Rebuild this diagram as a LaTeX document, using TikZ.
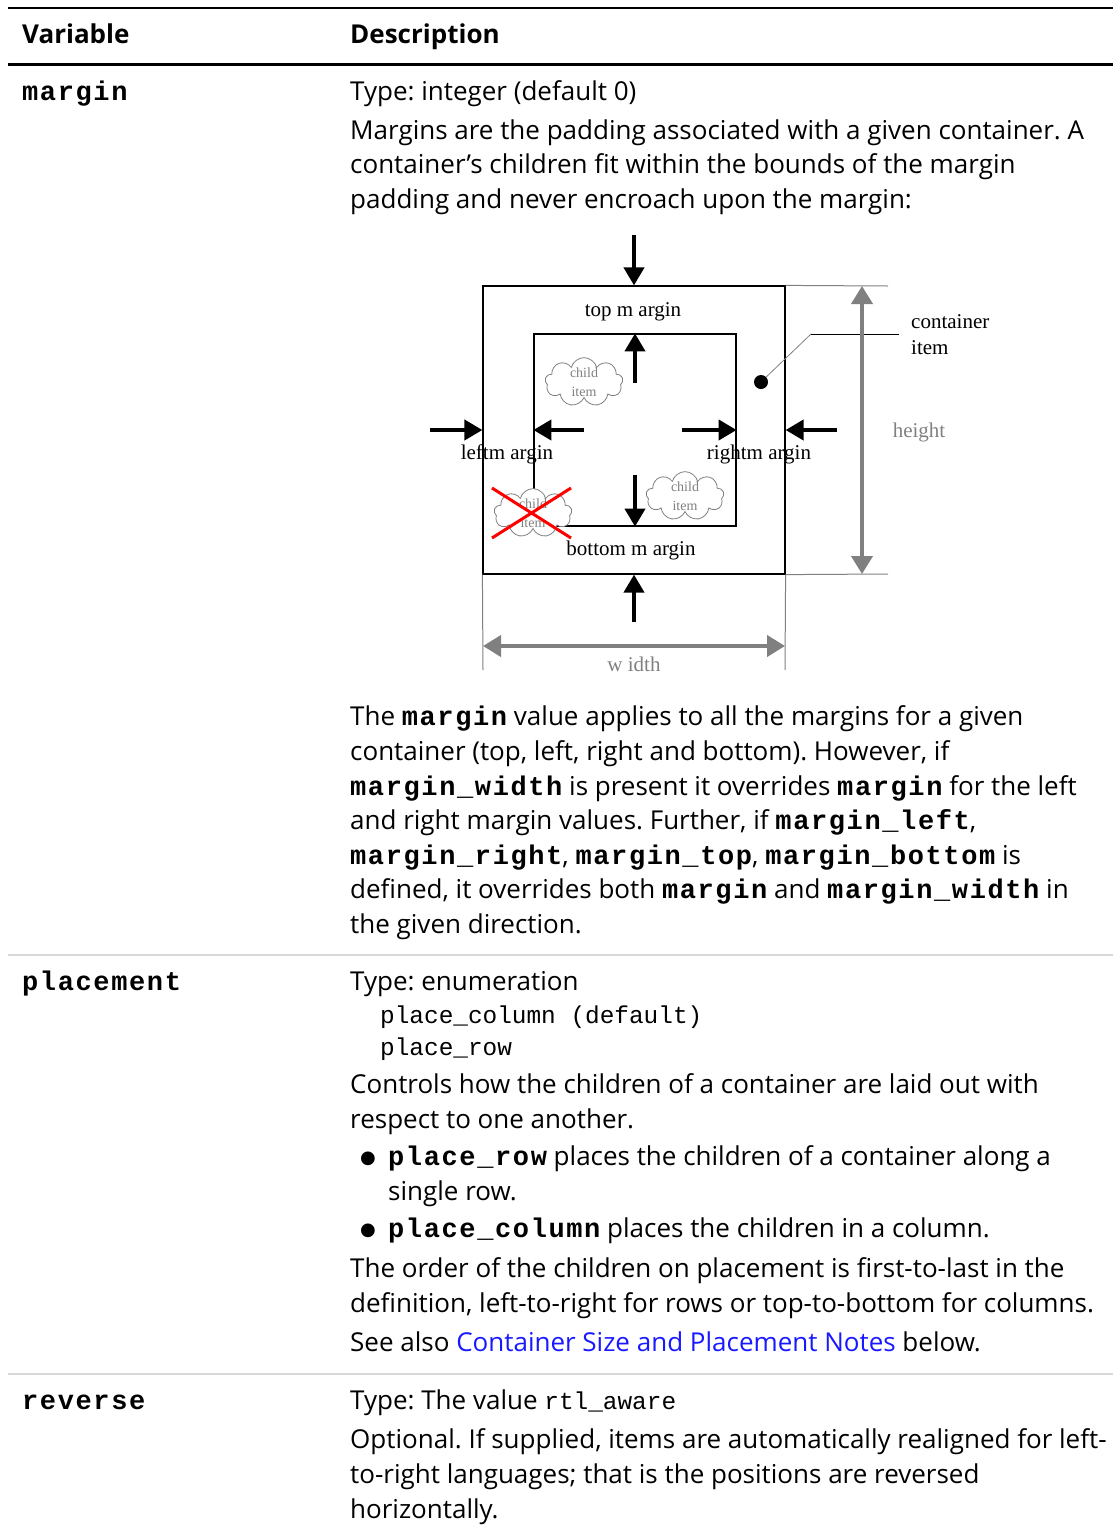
\documentclass[tikz,border=0pt]{standalone}
\usepackage{fontspec}
\setmainfont{Open Sans}
\newfontfamily\codefont{Liberation Mono}
\newfontfamily\codewide{Liberation Mono}[LetterSpace=6]
\newfontfamily\figfont{Liberation Serif}
\newfontfamily\symfont{DejaVu Sans}
\usetikzlibrary{arrows.meta,shapes.symbols,calc}
\definecolor{linkblue}{RGB}{25,25,255}
\definecolor{rulegray}{RGB}{215,215,215}
\definecolor{dimgray}{RGB}{128,128,128}
\newcommand{\bodysize}{\fontsize{26}{30}\selectfont}
\newcommand{\codebold}[1]{{\codewide\bfseries\fontsize{27}{30}\selectfont #1}}
\newcommand{\codereg}[1]{{\codefont\fontsize{24.4}{28}\selectfont #1}}
\newcommand{\bigbullet}{\raisebox{1.5pt}{\symfont\fontsize{18}{18}\selectfont ●}}
\frenchspacing

\begin{document}
\begin{tikzpicture}[x=1pt, y=-1pt,
    txt/.style = {anchor=base west, inner sep=0pt, font=\bodysize},
    headtxt/.style = {anchor=base west, inner sep=0pt, font=\bodysize\bfseries},
    vartxt/.style = {anchor=base west, inner sep=0pt, font=\codewide\bfseries\fontsize{27}{30}\selectfont},
    marginbox/.style = {draw, line width=1.2pt, inner sep=0pt},
    pusharrow/.style = {line width=4pt, -{Triangle[length=18pt, width=20pt]}},
    dimarrow/.style = {draw=dimgray, line width=4pt, {Triangle[length=18pt, width=21pt]}-{Triangle[length=18pt, width=21pt]}},
    extline/.style = {draw=dimgray, line width=1pt},
    lbl/.style = {inner sep=0pt, font=\figfont\fontsize{21}{21}\selectfont},
    cloudbox/.style = {cloud, cloud puffs=9, cloud ignores aspect, draw=dimgray, fill=white,
                       line width=0.8pt, minimum width=78pt, minimum height=48pt, inner sep=0pt,
                       align=center, text=dimgray, font=\figfont\fontsize{14}{19}\selectfont}]
  \useasboundingbox (0,0) rectangle (1113,1532);

  % table rules
  \draw[line width=1.2pt] (8,8) -- (1113,8);
  \draw[line width=3pt] (8,64) -- (1113,64);
  \draw[rulegray, line width=2.5pt] (8,955) -- (1113,955);
  \draw[rulegray, line width=2.5pt] (8,1374) -- (1113,1374);

  \node[headtxt] (hvar) at (22,43) {Variable};
  \node[headtxt] (hdesc) at (350,43) {Description};

  % margin row
  \node[vartxt] (vmargin) at (22,100) {margin};
  \node[txt] (m1) at (350,100) {Type: integer (default 0)};
  \node[txt] (m2) at (350,139) {Margins are the padding associated with a given container. A};
  \node[txt] (m3) at (350,173) {container’s children fit within the bounds of the margin};
  \node[txt] (m4) at (350,208) {padding and never encroach upon the margin:};

  % the figure
  \node[marginbox, minimum width=302pt, minimum height=288pt] (outer) at (634,430) {};
  \node[marginbox, minimum width=202pt, minimum height=192pt] (inner) at (635,430) {};

  \node[cloudbox] (cloudA) at (584,382) {child\\item};
  \node[cloudbox] (cloudB) at (685,496) {child\\item};
  \node[cloudbox] (cloudC) at (533,513) {child\\item};
  \draw[red, line width=3pt] ($(cloudC.center)+(-41,-25)$) -- ($(cloudC.center)+(38,25)$);
  \draw[red, line width=3pt] ($(cloudC.center)+(-41,25)$) -- ($(cloudC.center)+(38,-25)$);

  \coordinate (toptail) at (634,235);
  \coordinate (bottail) at (634,622);
  \coordinate (lefttail) at (430,430);
  \coordinate (righttail) at (837,430);
  \coordinate (uptail) at (635,383);
  \coordinate (downtail) at (635,475);
  \coordinate (intail) at (584,430);
  \coordinate (outtail) at (682,430);
  \draw[pusharrow] (toptail) -- (outer.north);
  \draw[pusharrow] (bottail) -- (outer.south);
  \draw[pusharrow] (lefttail) -- (outer.west);
  \draw[pusharrow] (righttail) -- (outer.east);
  \draw[pusharrow] (uptail) -- (inner.north);
  \draw[pusharrow] (downtail) -- (inner.south);
  \draw[pusharrow] (intail) -- (inner.west);
  \draw[pusharrow] (outtail) -- (inner.east);

  \node[lbl] (toplbl) at (633,312) {top m argin};
  \node[lbl] (leftlbl) at (507,454) {leftm argin};
  \node[lbl] (rightlbl) at (759,454) {rightm argin};
  \node[lbl] (botlbl) at (631,550) {bottom m argin};

  \node[circle, fill, minimum size=14pt, inner sep=0pt] (itemdot) at (761,382) {};
  \coordinate (knee) at (811,334);
  \coordinate (leaderend) at (899,334);
  \draw[gray, line width=0.8pt] (itemdot) -- (knee);
  \draw[line width=1pt] (knee) -- (leaderend);
  \node[lbl, anchor=west] (contlbl) at (911,322) {container};
  \node[lbl, anchor=west] (itemlbl) at (911,348) {item};

  % extension lines and sizes
  \coordinate (hext1) at (888,286);
  \coordinate (hext2) at (888,574);
  \coordinate (wext1) at (483,670);
  \coordinate (wext2) at (785,670);
  \draw[extline] (outer.north east) -- (hext1);
  \draw[extline] (outer.south east) -- (hext2);
  \draw[extline] (outer.south west) -- (wext1);
  \draw[extline] (outer.south east) -- (wext2);
  \coordinate (htop) at (862,286);
  \coordinate (hbot) at (862,574);
  \coordinate (wleft) at (483,646);
  \coordinate (wright) at (785,646);
  \draw[dimarrow] (htop) -- (hbot);
  \draw[dimarrow] (wleft) -- (wright);
  \node[lbl, text=dimgray] (heightlbl) at (919,432) {height};
  \node[lbl, text=dimgray] (widthlbl) at (634,664) {w idth};

  \node[txt] (d1) at (350,725) {The \codebold{margin} value applies to all the margins for a given};
  \node[txt] (d2) at (350,760) {container (top, left, right and bottom). However, if};
  \node[txt] (d3) at (350,795) {\codebold{margin\_width} is present it overrides \codebold{margin} for the left};
  \node[txt] (d4) at (350,829) {and right margin values. Further, if \codebold{margin\_left},};
  \node[txt] (d5) at (350,864) {\codebold{margin\_right}, \codebold{margin\_top}, \codebold{margin\_bottom} is};
  \node[txt] (d6) at (350,898) {defined, it overrides both \codebold{margin} and \codebold{margin\_width} in};
  \node[txt] (d7) at (350,933) {the given direction.};

  % placement row
  \node[vartxt] (vplace) at (22,990) {placement};
  \node[txt] (p1) at (350,990) {Type: enumeration};
  \node[txt] (p2) at (380,1023) {\codereg{place\_column (default)}};
  \node[txt] (p3) at (380,1055) {\codereg{place\_row}};
  \node[txt] (p4) at (350,1093) {Controls how the children of a container are laid out with};
  \node[txt] (p5) at (350,1128) {respect to one another.};
  \node[txt] (b1) at (360,1165) {\bigbullet};
  \node[txt] (p6) at (388,1165) {\codebold{place\_row} places the children of a container along a};
  \node[txt] (p7) at (388,1200) {single row.};
  \node[txt] (b2) at (360,1237) {\bigbullet};
  \node[txt] (p8) at (388,1237) {\codebold{place\_column} places the children in a column.};
  \node[txt] (p9) at (350,1277) {The order of the children on placement is first-to-last in the};
  \node[txt] (p10) at (350,1312) {definition, left-to-right for rows or top-to-bottom for columns.};
  \node[txt] (p11) at (350,1351) {See also \textcolor{linkblue}{Container Size and Placement Notes} below.};

  % reverse row
  \node[vartxt] (vrev) at (22,1409) {reverse};
  \node[txt] (r1) at (350,1409) {Type: The value \codereg{rtl\_aware}};
  \node[txt] (r2) at (350,1448) {Optional. If supplied, items are automatically realigned for left-};
  \node[txt] (r3) at (350,1483) {to-right languages; that is the positions are reversed};
  \node[txt] (r4) at (350,1518) {horizontally.};
\end{tikzpicture}
\end{document}
